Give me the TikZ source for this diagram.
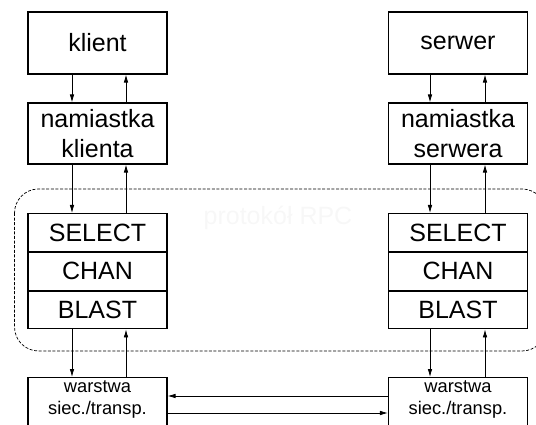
\documentclass[tikz,border=0pt]{standalone}
\usepackage{fontspec}
\setmainfont{Liberation Sans}
\usetikzlibrary{arrows.meta}
\begin{document}
\begin{tikzpicture}[x=1pt,y=-1pt,
  box/.style={draw, line width=1.1pt, minimum width=139pt, inner sep=0pt, align=center,
    font=\fontsize{25}{30}\selectfont},
  layer/.style={box, minimum height=37.7pt, anchor=north},
  arr/.style={-{Latex[length=8pt,width=4.6pt]}, line width=0.8pt},
  small/.style={font=\fontsize{18.3}{22.5}\selectfont, align=center, inner sep=0pt}]
\useasboundingbox (0,0) rectangle (536,425);
% protocol region
\draw[line width=0.7pt, dash pattern=on 3pt off 1.6pt, rounded corners=24pt] (14.5,189) rectangle (546,351);
\node[text=black!3, font=\fontsize{25}{30}\selectfont, inner sep=0pt] (rpc) at (278,218) {protokół RPC};
% left column
\node[box, minimum height=62pt] (kl) at (97.5,43) {klient};
\node[box, minimum height=61pt] (nk) at (97.5,133.5) {namiastka\\klienta};
\node[layer] (ls) at (97.5,213) {SELECT};
\node[layer] (lc) at (ls.south) {CHAN};
\node[layer] (lb) at (lc.south) {BLAST};
\node[box, minimum height=70pt, anchor=north] (wl) at (97.5,377) {};
\node[small, anchor=center] (wlt) at (97.5,399.5) {warstwa\\siec./transp.};
% right column
\node[box, minimum height=62pt] (sv) at (458,43) {serwer};
\node[box, minimum height=61pt] (ns) at (458,133.5) {namiastka\\serwera};
\node[layer] (rs) at (458,213) {SELECT};
\node[layer] (rc) at (rs.south) {CHAN};
\node[layer] (rb) at (rc.south) {BLAST};
\node[box, minimum height=70pt, anchor=north] (wr) at (458,377) {};
\node[small, anchor=center] (wrt) at (458,399.5) {warstwa\\siec./transp.};
% left arrows
\draw[arr] ([xshift=-25.5pt]kl.south) -- ([xshift=-25.5pt]nk.north);
\draw[arr] ([xshift=28.5pt]nk.north) -- ([xshift=28.5pt]kl.south);
\draw[arr] ([xshift=-25.5pt]nk.south) -- ([xshift=-25.5pt]ls.north);
\draw[arr] ([xshift=28.5pt]ls.north) -- ([xshift=28.5pt]nk.south);
\draw[arr] ([xshift=-25.5pt]lb.south) -- ([xshift=-25.5pt]wl.north);
\draw[arr] ([xshift=28.5pt]wl.north) -- ([xshift=28.5pt]lb.south);
% right arrows
\draw[arr] ([xshift=-28pt]sv.south) -- ([xshift=-28pt]ns.north);
\draw[arr] ([xshift=27pt]ns.north) -- ([xshift=27pt]sv.south);
\draw[arr] ([xshift=-28pt]ns.south) -- ([xshift=-28pt]rs.north);
\draw[arr] ([xshift=27pt]rs.north) -- ([xshift=27pt]ns.south);
\draw[arr] ([xshift=-28pt]rb.south) -- ([xshift=-28pt]wr.north);
\draw[arr] ([xshift=27pt]wr.north) -- ([xshift=27pt]rb.south);
% network arrows
\draw[arr] ([yshift=-19pt]wr.north west) -- ([yshift=-19pt]wl.north east);
\draw[arr] ([yshift=-36pt]wl.north east) -- ([yshift=-36pt]wr.north west);
\end{tikzpicture}
\end{document}
